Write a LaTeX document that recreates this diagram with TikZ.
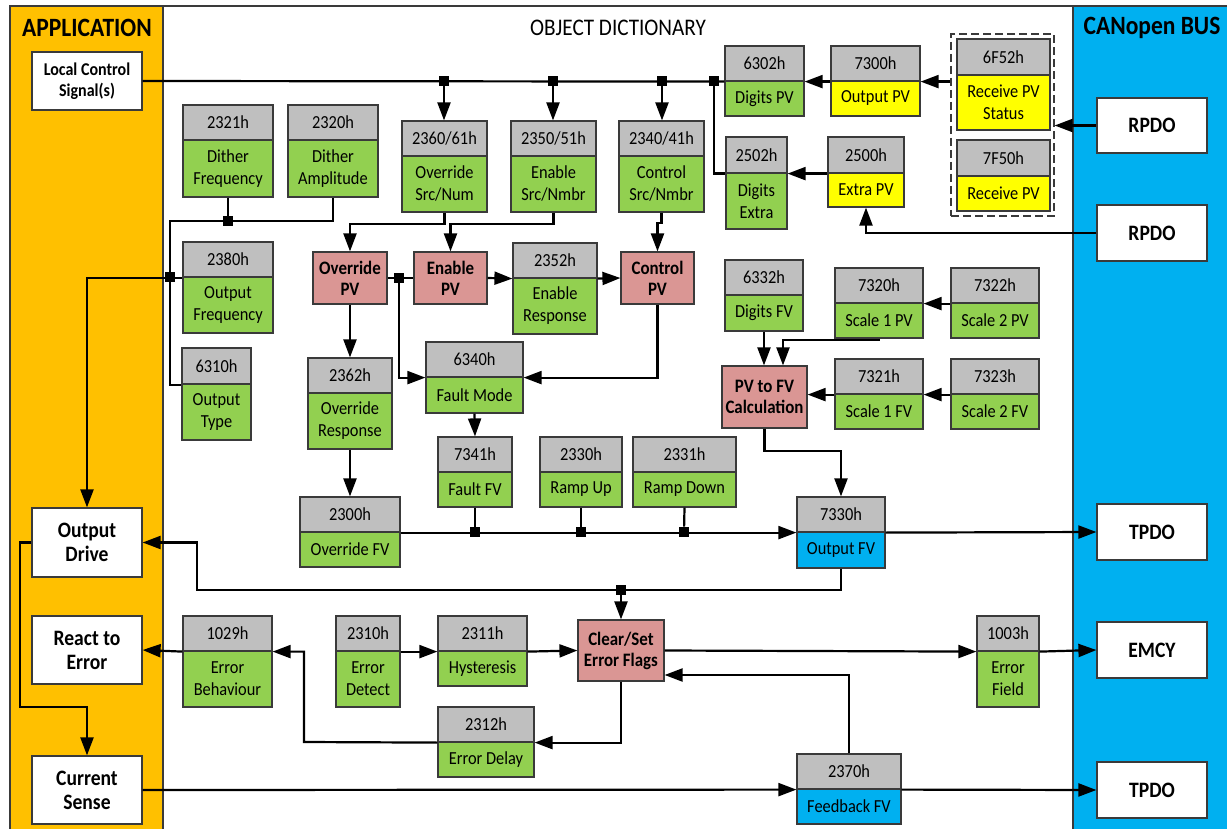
\documentclass[tikz,border=0pt]{standalone}
\usepackage{fontspec}
\setmainfont{Carlito}[FakeStretch=0.89]
\usetikzlibrary{arrows.meta,positioning}
\definecolor{apporange}{HTML}{FFC000}
\definecolor{busblue}{HTML}{00B0F0}
\definecolor{objgreen}{HTML}{92D050}
\definecolor{objyellow}{HTML}{FFFF00}
\definecolor{objblue}{HTML}{00B0F0}
\definecolor{idxgray}{HTML}{BFBFBF}
\definecolor{procpink}{HTML}{DA9694}
\definecolor{boxline}{HTML}{3A3A3A}
\tikzset{>={Triangle[length=9pt,width=6.5pt]},
  boxspan/.code args={#1/#2/#3/#4}{%
    \pgfmathsetmacro\spcx{(#1+#2)/2}\pgfmathsetmacro\spcy{(#3+#4)/2}%
    \pgfmathsetmacro\spw{(#2-#1)/2}\pgfmathsetmacro\sph{(#4-#3)/2}%
    \edef\spset{\noexpand\pgfkeysalso{at={(\spcx,\spcy)},
      minimum width=\spw pt,minimum height=\sph pt}}\spset},
  frame/.style={draw=boxline,line width=0.6pt},
  wire/.style={line width=1.1pt},
  idxcell/.style={draw=boxline,line width=0.6pt,fill=idxgray,inner sep=0pt,
    font=\fontsize{9.2}{11}\selectfont},
  valcell/.style={draw=boxline,line width=0.6pt,fill=#1,inner sep=0pt,align=center,
    font=\fontsize{9.2}{11}\selectfont},
  procbox/.style={draw=boxline,line width=0.6pt,fill=procpink,inner sep=0pt,align=center,
    font=\bfseries\fontsize{9.5}{10.5}\selectfont},
  appbox/.style={draw=boxline,line width=0.6pt,fill=white,inner sep=0pt,align=center,
    font=\bfseries\fontsize{11}{12}\selectfont},
  junc/.style={fill=black,inner sep=0pt,minimum size=5pt}}
\newcommand{\objentry}[9]{%
  \node[idxcell,boxspan={#2/#3/#4/#5}] (#1-i) {#7};
  \node[valcell=#9,boxspan={#2/#3/#5/#6}] (#1) {#8};}
\begin{document}
\begin{tikzpicture}[x=0.5pt,y=-0.5pt]
  \useasboundingbox (0,0) rectangle (1227,829);
  \clip (0,0) rectangle (1227,829);
  \fill[white] (0,0) rectangle (1227,829);
  \draw[frame,fill=apporange] (10,6) rectangle (163,840);
  \draw[frame,fill=busblue] (1073,6) rectangle (1240,840);
  \draw[frame] (163,6) -- (1073,6);

  \node[font=\bfseries\fontsize{13.2}{15}\selectfont] (apptitle) at (87,28) {APPLICATION};
  \node[font=\fontsize{11.9}{14}\selectfont] (odtitle) at (618,28) {OBJECT DICTIONARY};
  \node[font=\bfseries\fontsize{13.2}{15}\selectfont] (bustitle) at (1152,28) {CANopen BUS};

  \node[appbox,boxspan={32/142/52/110},font=\bfseries\fontsize{9}{10.5}\selectfont] (local) {Local Control\\Signal(s)};
  \node[appbox,boxspan={32/142/508/577}] (odrive) {Output\\Drive};
  \node[appbox,boxspan={32/142/616/684}] (react) {React to\\Error};
  \node[appbox,boxspan={32/142/756/824}] (csense) {Current\\Sense};

  \node[appbox,boxspan={1097/1207/98/153}] (rpdo1) {RPDO};
  \node[appbox,boxspan={1097/1207/205/261}] (rpdo2) {RPDO};
  \node[appbox,boxspan={1097/1207/504/560}] (tpdo1) {TPDO};
  \node[appbox,boxspan={1097/1207/622/678}] (emcy) {EMCY};
  \node[appbox,boxspan={1097/1207/762/818}] (tpdo2) {TPDO};

  \node[draw=boxline,line width=0.6pt,dash pattern=on 4pt off 2pt,inner sep=0pt,
    boxspan={951/1054/34/216}] (rxgrp) {};

  \objentry{dfreq}{183}{273}{105}{140}{197}{2321h}{Dither\\Frequency}{objgreen}
  \objentry{damp}{288}{378}{105}{140}{197}{2320h}{Dither\\Amplitude}{objgreen}
  \objentry{ofreq}{183}{273}{242}{277}{333}{2380h}{Output\\Frequency}{objgreen}
  \objentry{otype}{182}{251}{348}{384}{440}{6310h}{Output\\Type}{objgreen}
  \objentry{ovsrc}{402}{487}{121}{156}{212}{2360/61h}{Override\\Src/Num}{objgreen}
  \objentry{ensrc}{511}{596}{121}{156}{212}{2350/51h}{Enable\\Src/Nmbr}{objgreen}
  \objentry{ctsrc}{619}{704}{121}{156}{212}{2340/41h}{Control\\Src/Nmbr}{objgreen}
  \objentry{digpv}{725}{804}{46}{81}{116}{6302h}{Digits PV}{objgreen}
  \objentry{digex}{726}{787}{137}{173}{229}{2502h}{Digits\\Extra}{objgreen}
  \objentry{outpv}{831}{920}{46}{81}{116}{7300h}{Output PV}{objyellow}
  \objentry{expv}{828}{904}{137}{173}{207}{2500h}{Extra PV}{objyellow}
  \objentry{rxst}{957}{1050}{39}{75}{130}{6F52h}{Receive PV\\Status}{objyellow}
  \objentry{rxpv}{957}{1050}{140}{176}{211}{7F50h}{Receive PV}{objyellow}
  \objentry{enresp}{513}{597}{243}{278}{334}{2352h}{Enable\\Response}{objgreen}
  \objentry{digfv}{725}{803}{260}{295}{331}{6332h}{Digits FV}{objgreen}
  \objentry{sc1pv}{835}{923}{268}{303}{338}{7320h}{Scale 1 PV}{objgreen}
  \objentry{sc2pv}{951}{1039}{268}{303}{338}{7322h}{Scale 2 PV}{objgreen}
  \objentry{sc1fv}{835}{923}{359}{394}{429}{7321h}{Scale 1 FV}{objgreen}
  \objentry{sc2fv}{951}{1039}{359}{394}{429}{7323h}{Scale 2 FV}{objgreen}
  \objentry{ovresp}{308}{392}{358}{393}{449}{2362h}{Override\\Response}{objgreen}
  \objentry{fmode}{426}{523}{342}{377}{413}{6340h}{Fault Mode}{objgreen}
  \objentry{faultfv}{438}{512}{437}{472}{507}{7341h}{Fault FV}{objgreen}
  \objentry{rampup}{540}{622}{437}{472}{507}{2330h}{Ramp Up}{objgreen}
  \objentry{rampdn}{633}{736}{437}{472}{507}{2331h}{Ramp Down}{objgreen}
  \objentry{ovfv}{300}{400}{497}{532}{567}{2300h}{Override FV}{objgreen}
  \objentry{outfv}{797}{885}{497}{532}{568}{7330h}{Output FV}{objblue}
  \objentry{errbeh}{183}{272}{616}{651}{707}{1029h}{Error\\Behaviour}{objgreen}
  \objentry{errdet}{336}{400}{616}{651}{707}{2310h}{Error\\Detect}{objgreen}
  \objentry{hyst}{438}{527}{616}{651}{686}{2311h}{Hysteresis}{objgreen}
  \objentry{errdly}{438}{534}{707}{742}{777}{2312h}{Error Delay}{objgreen}
  \objentry{errfld}{977}{1039}{616}{651}{707}{1003h}{Error\\Field}{objgreen}
  \objentry{fbfv}{797}{901}{754}{789}{824}{2370h}{Feedback FV}{objblue}

  \node[procbox,boxspan={313/387/252/304}] (ovpv) {Override\\PV};
  \node[procbox,boxspan={414/487/252/304}] (enpv) {Enable\\PV};
  \node[procbox,boxspan={621/694/252/304}] (ctpv) {Control\\PV};
  \node[procbox,boxspan={722/807/366/428}] (calc) {PV to FV\\Calculation};
  \node[procbox,boxspan={578/664/620/681}] (flags) {Clear/Set\\Error Flags};

  \node[junc] (j1) at (444,81) {};
  \node[junc] (j2) at (553,81) {};
  \node[junc] (j3) at (662,81) {};
  \node[junc] (j4) at (714,81) {};
  \node[junc] (j5) at (228,221) {};
  \node[junc] (j6) at (170,277) {};
  \node[junc] (j7) at (399,278) {};
  \node[junc] (j8) at (475,532) {};
  \node[junc] (j9) at (581,532) {};
  \node[junc] (j10) at (684,532) {};
  \node[junc] (j11) at (621,590) {};
  \coordinate (dbus) at (170,221);
  \coordinate (sc1bend) at (783,340);
  \coordinate (fvret) at (197,590);
  \coordinate (dlybend) at (304,742);
  \coordinate (fbbend) at (849,675);
  \coordinate (drvbend) at (20,707);

  % receive side
  \draw[wire] (local.east) -- (digpv-i.south west);
  \draw[wire,->] (j1) -- (j1 |- ovsrc-i.north);
  \draw[wire,->] (j2) -- (j2 |- ensrc-i.north);
  \draw[wire,->] (j3) -- (j3 |- ctsrc-i.north);
  \draw[wire] (j4) |- (digex-i.south west);
  \draw[wire,->] (outpv-i.south west) -- (digpv-i.south east);
  \draw[wire,->] (rxgrp.west |- outpv-i.south east) -- (outpv-i.south east);
  \draw[wire,->] (rpdo1.west) -- (rpdo1.west -| rxgrp.east);
  \draw[wire,->] (expv-i.south west) -- (digex-i.south east);
  \draw[wire,->] (rpdo2.west) -| (expv.south);

  \draw[wire] (dfreq.south) -- (j5);
  \draw[wire] (damp.south) |- (dbus) |- (otype-i.south west);
  \draw[wire,->] (ofreq-i.south west) -| (odrive.north);

  \draw[wire,->] (ovsrc.south) -- ++(0,11) -| (ovpv.north);
  \draw[wire,->] (ensrc.south) -- ++(0,11) -| (enpv.north);
  \draw[wire,->] (ctsrc.south) -- ++(0,10) -| (ctpv.north);
  \draw[wire] (ovpv.east) -- (enpv.west);
  \draw[wire,->] (j7) |- (fmode-i.south west);
  \draw[wire,->] (enpv.east) -- (enresp-i.south west);
  \draw[wire,->] (enresp-i.south east) -- (ctpv.west);
  \draw[wire,->] (ctpv.south) |- (fmode-i.south east);
  \draw[wire,->] (ovpv.south) -- (ovresp-i.north);
  \draw[wire,->] (ovresp.south) -- (ovfv-i.north);
  \draw[wire,->] (fmode.south) -- (faultfv-i.north);

  % output value
  \draw[wire,->] (ovfv-i.south east) -- (outfv-i.south west);
  \draw[wire] (faultfv.south) -- (j8);
  \draw[wire] (rampup.south) -- (j9);
  \draw[wire] (rampdn.south) -- (j10);
  \draw[wire,->] (outfv-i.south east) -- (tpdo1.west);
  \draw[wire,->] (outfv.south) |- (fvret) |- (odrive.east);
  \draw[wire,->] (j11) -- (flags.north);

  \draw[wire,->] (digfv.south) -- (digfv.south |- calc.north);
  \draw[wire,->] (sc1pv.south) |- (sc1bend) -- (sc1bend |- calc.north);
  \draw[wire,->] (sc2pv-i.south west) -- (sc1pv-i.south east);
  \draw[wire,->] (sc1fv-i.south west) -- (calc.east |- sc1fv-i.south west);
  \draw[wire,->] (sc2fv-i.south west) -- (sc1fv-i.south east);
  \draw[wire,->] (calc.south) -- ++(0,22) -| (outfv-i.north);

  % errors
  \draw[wire,->] (errdet-i.south east) -- (hyst-i.south west);
  \draw[wire,->] (hyst-i.south east) -- (flags.west);
  \draw[wire,->] (flags.east) -- (errfld-i.south west);
  \draw[wire,->] (errfld-i.south east) -- (emcy.west);
  \draw[wire,->] (errbeh-i.south west) -- (react.east);
  \draw[wire,->] (flags.south) |- (errdly-i.south east);
  \draw[wire,->] (errdly-i.south west) -- (dlybend) |- (errbeh-i.south east);
  \draw[wire,->] (fbfv-i.north) -- (fbbend) -- (fbbend -| flags.east);
  \draw[wire,->] (csense.east) -- (fbfv-i.south west);
  \draw[wire,->] (fbfv-i.south east) -- (tpdo2.west);
  \draw[wire,->] (odrive.west) -| (drvbend) -| (csense.north);
\end{tikzpicture}
\end{document}
